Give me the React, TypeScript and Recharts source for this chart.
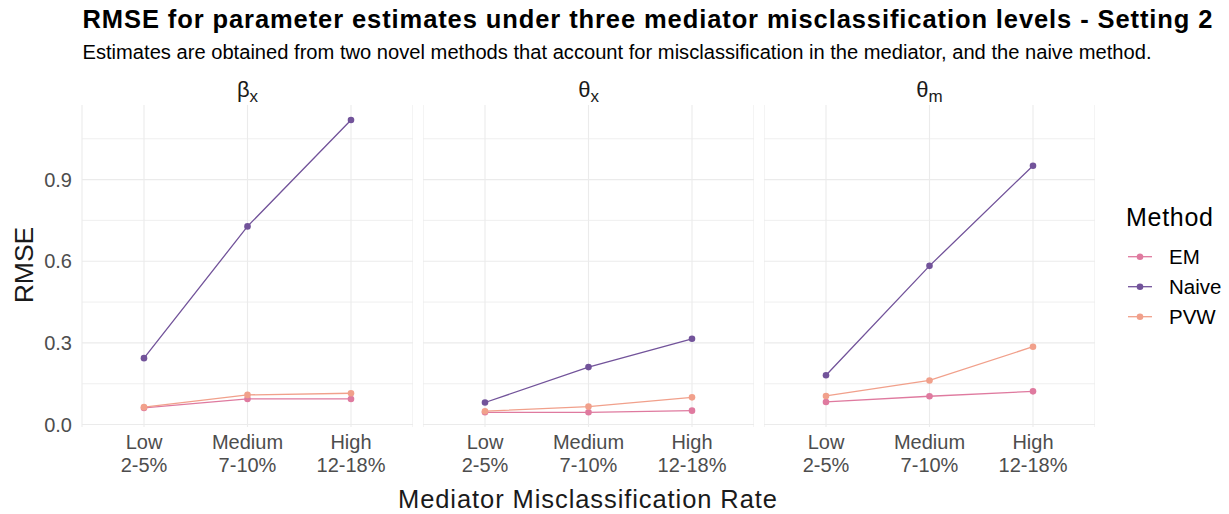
import { LineChart, Line, XAxis, YAxis, CartesianGrid, ReferenceLine } from 'recharts'

// misclassification levels (x categories)
const levelNames = ['Low', 'Medium', 'High']
const levelRanges = ['2-5%', '7-10%', '12-18%']

// RMSE per panel
const betaXEM = [0.061, 0.094, 0.094]
const betaXNaive = [0.244, 0.728, 1.119]
const betaXPVW = [0.064, 0.109, 0.115]

const thetaXEM = [0.045, 0.045, 0.051]
const thetaXNaive = [0.081, 0.211, 0.315]
const thetaXPVW = [0.049, 0.066, 0.1]

const thetaMEM = [0.083, 0.104, 0.122]
const thetaMNaive = [0.181, 0.583, 0.951]
const thetaMPVW = [0.105, 0.162, 0.286]

const methods = ['EM', 'Naive', 'PVW']
const yTicks = [0, 0.3, 0.6, 0.9]
const yMinor = [0.15, 0.45, 0.75, 1.05]

const colors: Record<string, string> = {
  EM: '#df7a9f',
  Naive: '#72539a',
  PVW: '#f1a08b',
}

const FONT = '"Liberation Sans", Arial, sans-serif'
const GRID = '#ebebeb'

const toRows = (em: number[], naive: number[], pvw: number[]) =>
  levelNames.map((name, i) => ({ level: name, EM: em[i], Naive: naive[i], PVW: pvw[i] }))

const panels = [
  { sym: 'β', sub: 'x', rows: toRows(betaXEM, betaXNaive, betaXPVW) },
  { sym: 'θ', sub: 'x', rows: toRows(thetaXEM, thetaXNaive, thetaXPVW) },
  { sym: 'θ', sub: 'm', rows: toRows(thetaMEM, thetaMNaive, thetaMPVW) },
]

const PLOT_W = 331
const CHART_TOP = 95
const CHART_H = 382
const panelLeft = [82, 423, 764]

const XTick = (props: any) => {
  const { x, y, payload } = props
  const i = levelNames.indexOf(payload.value)
  return (
    <text x={x} textAnchor="middle" fill="#4d4d4d" fontSize={20} fontFamily={FONT}>
      <tspan x={x} y={y + 21.5}>{payload.value}</tspan>
      <tspan x={x} y={y + 45}>{levelRanges[i]}</tspan>
    </text>
  )
}

const Panel = ({ rows, first }: { rows: any[]; first: boolean }) => (
  <LineChart
    width={first ? PLOT_W + 82 : PLOT_W}
    height={CHART_H}
    data={rows}
    margin={{ top: 10, right: 0, bottom: 0, left: 0 }}
  >
    <CartesianGrid horizontal={false} stroke={GRID} strokeWidth={1.1} />
    {yMinor.map((v) => (
      <ReferenceLine key={'m' + v} y={v} stroke={GRID} strokeWidth={0.8} />
    ))}
    {yTicks.map((v) => (
      <ReferenceLine key={'M' + v} y={v} stroke={GRID} strokeWidth={1.1} />
    ))}
    <XAxis
      dataKey="level"
      type="category"
      padding={{ left: 62, right: 62 }}
      axisLine={false}
      tickLine={false}
      tickSize={0}
      tickMargin={0}
      height={50}
      interval={0}
      tick={<XTick />}
    />
    <YAxis
      hide={!first}
      width={82}
      domain={[-0.009, 1.174]}
      ticks={yTicks}
      allowDataOverflow
      axisLine={false}
      tickLine={false}
      tickMargin={4}
      tickFormatter={(v: number) => v.toFixed(1)}
      tick={{ fill: '#4d4d4d', fontSize: 20, fontFamily: FONT }}
    />
    {methods.map((m) => (
      <Line
        key={m}
        dataKey={m}
        type="linear"
        stroke={colors[m]}
        strokeWidth={1.3}
        dot={{ r: 3.3, fill: colors[m], stroke: colors[m], strokeWidth: 0 }}
        activeDot={false}
        isAnimationActive={false}
      />
    ))}
  </LineChart>
)

export default function App() {
  return (
    <div
      style={{
        position: 'absolute',
        left: 0,
        top: 0,
        width: 1229,
        height: 514,
        background: '#fff',
        fontFamily: FONT,
        overflow: 'hidden',
      }}
    >
      {panels.map((p, i) => (
        <div
          key={i}
          style={{ position: 'absolute', top: CHART_TOP, left: i === 0 ? 0 : panelLeft[i] }}
        >
          <Panel rows={p.rows} first={i === 0} />
        </div>
      ))}

      <svg
        width={1229}
        height={514}
        style={{ position: 'absolute', left: 0, top: 0, pointerEvents: 'none' }}
        fontFamily={FONT}
      >
        <text
          x={82.5}
          y={28}
          fontSize={25.5}
          fontWeight="bold"
          fill="#000"
          textLength={1130}
          lengthAdjust="spacing"
        >
          RMSE for parameter estimates under three mediator misclassification levels - Setting 2
        </text>
        <text
          x={82.5}
          y={59}
          fontSize={20}
          fill="#000"
          textLength={1069}
          lengthAdjust="spacingAndGlyphs"
        >
          Estimates are obtained from two novel methods that account for misclassification in the mediator, and the naive method.
        </text>

        {panels.map((p, i) => (
          <text
            key={i}
            x={panelLeft[i] + PLOT_W / 2}
            y={97}
            textAnchor="middle"
            fontSize={22}
            fill="#1a1a1a"
          >
            {p.sym}
            <tspan fontSize={17} dy={5}>{p.sub}</tspan>
          </text>
        ))}

        <text
          transform="translate(33, 265) rotate(-90)"
          textAnchor="middle"
          fontSize={26.5}
          fill="#1a1a1a"
        >
          RMSE
        </text>
        <text
          x={398}
          y={507.5}
          fontSize={25.5}
          fill="#1a1a1a"
          textLength={379}
          lengthAdjust="spacing"
        >
          Mediator Misclassification Rate
        </text>

        <text x={1126} y={225.7} fontSize={25} fill="#000" textLength={87} lengthAdjust="spacing">
          Method
        </text>
        {methods.map((m, i) => {
          const cy = 256.7 + i * 30
          return (
            <g key={m}>
              <line x1={1128} x2={1152} y1={cy} y2={cy} stroke={colors[m]} strokeWidth={1.3} />
              <circle cx={1140} cy={cy} r={3.3} fill={colors[m]} />
              <text x={1169} y={cy + 7.5} fontSize={20.5} fill="#000">
                {m}
              </text>
            </g>
          )
        })}
      </svg>
    </div>
  )
}
